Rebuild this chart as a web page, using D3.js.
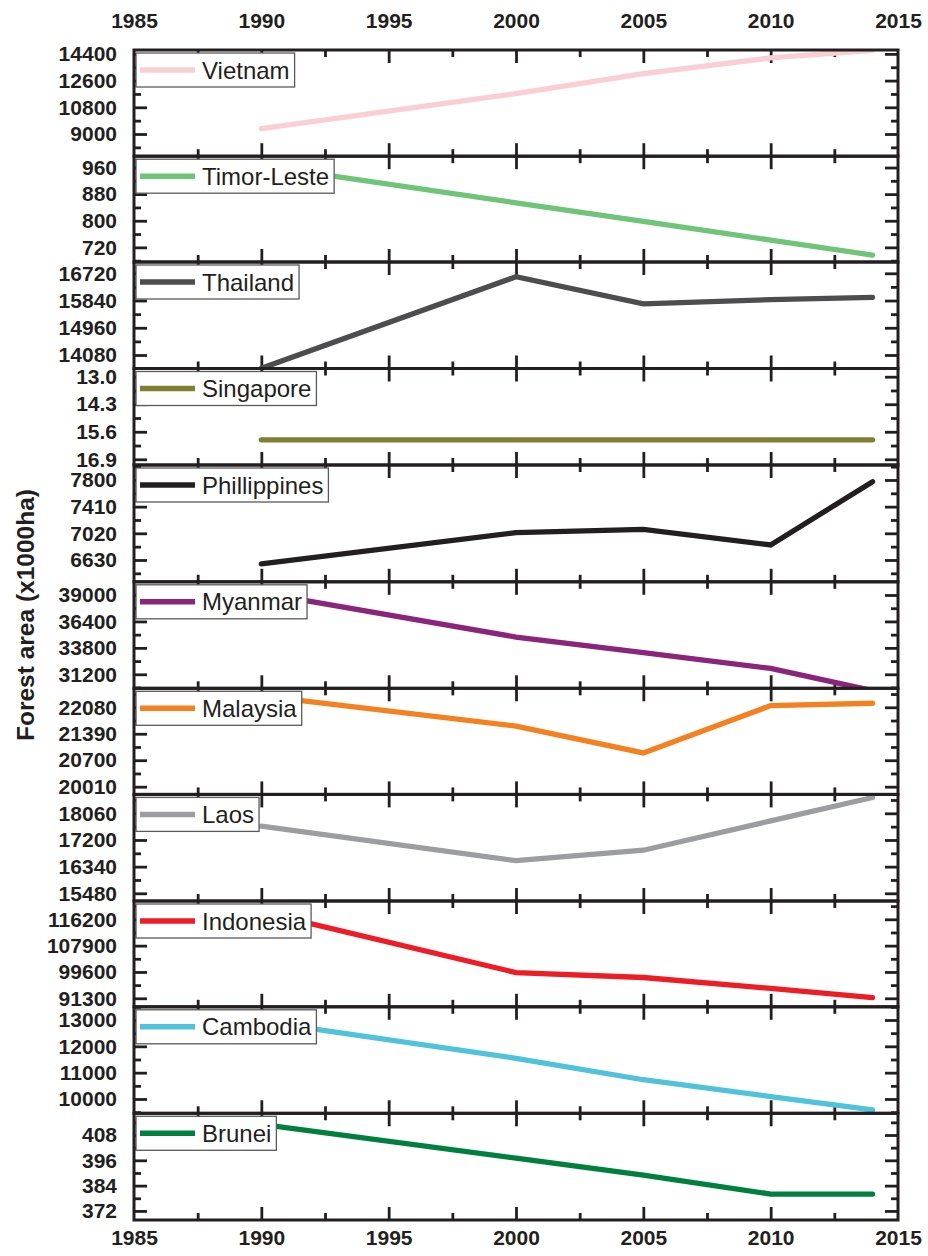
<html>
<head>
  <meta charset="utf-8">
  <title>Forest area, Southeast Asia</title>
  <style>
    body { margin: 0; background: #ffffff; }
    svg { display: block; font-family: 'Liberation Sans', Arial, sans-serif; }
    .tick text { font-family: 'Liberation Sans', Arial, sans-serif; font-weight: bold; font-size: 21px; fill: #231f20; }
    .tick line { stroke: #231f20; stroke-width: 2.8; }
  </style>
  <script src="https://d3js.org/d3.v7.min.js"></script>
</head>
<body>
  <div id="chart"></div>
  <script>
    // survey years
    const years = [1990, 2000, 2005, 2010, 2014];

    // panels, top to bottom
    const countries = ['Vietnam', 'Timor-Leste', 'Thailand', 'Singapore', 'Phillippines', 'Myanmar',
                       'Malaysia', 'Laos', 'Indonesia', 'Cambodia', 'Brunei'];

    // forest area, x1000 ha
    const vietnam     = [9363, 11725, 13077, 14128, 14644];
    const timorLeste  = [966, 854, 798, 742, 697];
    const thailand    = [13650, 16610, 15735, 15870, 15944];
    const singapore   = [15.98, 15.98, 15.98, 15.98, 15.98];
    const philippines = [6572, 7029, 7078, 6850, 7775];
    const myanmar     = [39218, 34868, 33321, 31773, 29590];
    const malaysia    = [22376, 21591, 20890, 22124, 22185];
    const laos        = [17645, 16532, 16870, 17816, 18570];
    const indonesia   = [118545, 99409, 97857, 94432, 91500];
    const cambodia    = [12944, 11546, 10731, 10094, 9584];
    const brunei      = [413, 397, 389, 380, 380];

    // y tick labels per panel
    const vietnamTicks     = [14400, 12600, 10800, 9000];
    const timorLesteTicks  = [960, 880, 800, 720];
    const thailandTicks    = [16720, 15840, 14960, 14080];
    const singaporeTicks   = [13.0, 14.3, 15.6, 16.9];
    const philippinesTicks = [7800, 7410, 7020, 6630];
    const myanmarTicks     = [39000, 36400, 33800, 31200];
    const malaysiaTicks    = [22080, 21390, 20700, 20010];
    const laosTicks        = [18060, 17200, 16340, 15480];
    const indonesiaTicks   = [116200, 107900, 99600, 91300];
    const cambodiaTicks    = [13000, 12000, 11000, 10000];
    const bruneiTicks      = [408, 396, 384, 372];

    // y axis extent per panel: [value at bottom, value at top] (Singapore runs downward)
    const vietnamRange     = [7504, 14662];
    const timorLesteRange  = [676, 994];
    const thailandRange    = [13644, 17085];
    const singaporeRange   = [17.169, 12.613];
    const philippinesRange = [6311, 8019];
    const myanmarRange     = [29823, 40298];
    const malaysiaRange    = [19809, 22575];
    const laosRange        = [15232, 18670];
    const indonesiaRange   = [88621, 121968];
    const cambodiaRange    = [9457, 13501];
    const bruneiRange      = [367.7, 418.3];

    // x axis
    const yearTicks = [1985, 1990, 1995, 2000, 2005, 2010, 2015];

    const colors = ['#f9cfd4', '#6ec477', '#4d4d4f', '#7f7f33', '#231f20', '#8b247b',
                    '#f58020', '#9c9da0', '#ee1c25', '#4fc3d9', '#00803f'];

    const series = [vietnam, timorLeste, thailand, singapore, philippines, myanmar,
                    malaysia, laos, indonesia, cambodia, brunei];
    const tickSets = [vietnamTicks, timorLesteTicks, thailandTicks, singaporeTicks, philippinesTicks, myanmarTicks,
                      malaysiaTicks, laosTicks, indonesiaTicks, cambodiaTicks, bruneiTicks];
    const ranges = [vietnamRange, timorLesteRange, thailandRange, singaporeRange, philippinesRange, myanmarRange,
                    malaysiaRange, laosRange, indonesiaRange, cambodiaRange, bruneiRange];

    // layout
    const svgW = 928, svgH = 1256;
    const plotLeft = 134, plotRight = 898, plotTop = 50;
    const panelHeights = [106.2, 105.8, 106.5, 96.5, 116.8, 106.5, 106.1, 106.6, 105.8, 106.5, 106.7];
    const ink = '#231f20';

    const svg = d3.select('#chart').append('svg')
      .attr('width', svgW)
      .attr('height', svgH);

    const x = d3.scaleLinear().domain([1985, 2015]).range([plotLeft, plotRight]);
    const xMinor = d3.range(1985, 2015.01, 2.5).filter(d => d % 5 !== 0);

    let yStart = plotTop;
    const panels = countries.map((name, i) => {
      const p = { name, i, y0: yStart, y1: yStart + panelHeights[i] };
      yStart += panelHeights[i];
      return p;
    });

    panels.forEach(p => {
      const i = p.i;
      const y = d3.scaleLinear().domain(ranges[i]).range([p.y1, p.y0]);
      const labels = tickSets[i];
      const fmt = labels.some(v => !Number.isInteger(v)) ? d3.format('.1f') : d3.format('d');
      const lo = d3.min(ranges[i]), hi = d3.max(ranges[i]);
      const half = (labels[1] - labels[0]) / 2;
      const minor = d3.range(-21, 22)
        .filter(k => Math.abs(k) % 2 === 1)
        .map(k => labels[0] + k * half)
        .filter(v => v > lo && v < hi);

      const g = svg.append('g');

      // y ticks, inward on both sides
      g.append('g').attr('transform', `translate(${plotLeft},0)`)
        .call(d3.axisLeft(y).tickValues(minor).tickSize(-7).tickSizeOuter(0).tickFormat(''));
      g.append('g').attr('transform', `translate(${plotRight},0)`)
        .call(d3.axisRight(y).tickValues(minor).tickSize(-7).tickSizeOuter(0).tickFormat(''));
      g.append('g').attr('transform', `translate(${plotRight},0)`)
        .call(d3.axisRight(y).tickValues(labels).tickSize(-13).tickSizeOuter(0).tickFormat(''));
      g.append('g').attr('transform', `translate(${plotLeft},0)`)
        .call(d3.axisLeft(y).tickValues(labels).tickSize(-13).tickSizeOuter(0).tickPadding(17).tickFormat(fmt));

      // x ticks, inward on top and bottom
      [[p.y0, d3.axisTop], [p.y1, d3.axisBottom]].forEach(([yy, ax]) => {
        g.append('g').attr('transform', `translate(0,${yy})`)
          .call(ax(x).tickValues(xMinor).tickSize(-7).tickSizeOuter(0).tickFormat(''));
        g.append('g').attr('transform', `translate(0,${yy})`)
          .call(ax(x).tickValues(yearTicks.slice(1, -1)).tickSize(-13).tickSizeOuter(0).tickFormat(''));
      });

      g.selectAll('.domain').remove();

      // data line
      const clipId = 'clip' + i;
      svg.append('clipPath').attr('id', clipId)
        .append('rect')
        .attr('x', plotLeft).attr('y', p.y0)
        .attr('width', plotRight - plotLeft).attr('height', p.y1 - p.y0);

      const line = d3.line()
        .x((d, k) => x(years[k]))
        .y(d => y(d));

      svg.append('path')
        .datum(series[i])
        .attr('clip-path', `url(#${clipId})`)
        .attr('d', line)
        .attr('fill', 'none')
        .attr('stroke', colors[i])
        .attr('stroke-width', 5.3)
        .attr('stroke-linecap', 'round')
        .attr('stroke-linejoin', 'miter');

      // legend box
      const lg = svg.append('g').attr('transform', `translate(${plotLeft + 2},${p.y0 + 3})`);
      const box = lg.append('rect')
        .attr('height', 34)
        .attr('fill', '#ffffff')
        .attr('stroke', '#5a5a5c')
        .attr('stroke-width', 1.3);
      lg.append('line')
        .attr('x1', 4).attr('x2', 59)
        .attr('y1', 17).attr('y2', 17)
        .attr('stroke', colors[i])
        .attr('stroke-width', 5.5);
      const txt = lg.append('text')
        .attr('x', 66).attr('y', 25.5)
        .attr('font-size', 24)
        .attr('fill', ink)
        .text(p.name);
      box.attr('width', 66 + txt.node().getComputedTextLength() + 5);

      // panel frame
      svg.append('rect')
        .attr('x', plotLeft).attr('y', p.y0)
        .attr('width', plotRight - plotLeft).attr('height', p.y1 - p.y0)
        .attr('fill', 'none')
        .attr('stroke', ink)
        .attr('stroke-width', 3);
    });

    // year labels above and below
    const last = panels[panels.length - 1];
    svg.append('g').attr('transform', `translate(0,${plotTop})`)
      .call(d3.axisTop(x).tickValues(yearTicks).tickSize(0).tickPadding(22).tickFormat(d3.format('d')))
      .call(g => g.select('.domain').remove());
    svg.append('g').attr('transform', `translate(0,${last.y1})`)
      .call(d3.axisBottom(x).tickValues(yearTicks).tickSize(0).tickPadding(10).tickFormat(d3.format('d')))
      .call(g => g.select('.domain').remove());

    svg.selectAll('g').attr('font-family', null).attr('font-size', null);

    // y title
    svg.append('text')
      .attr('transform', 'translate(33.5,615) rotate(-90)')
      .attr('text-anchor', 'middle')
      .attr('font-size', 24.5)
      .attr('font-weight', 'bold')
      .attr('fill', ink)
      .text('Forest area (x1000ha)');
  </script>
</body>
</html>
